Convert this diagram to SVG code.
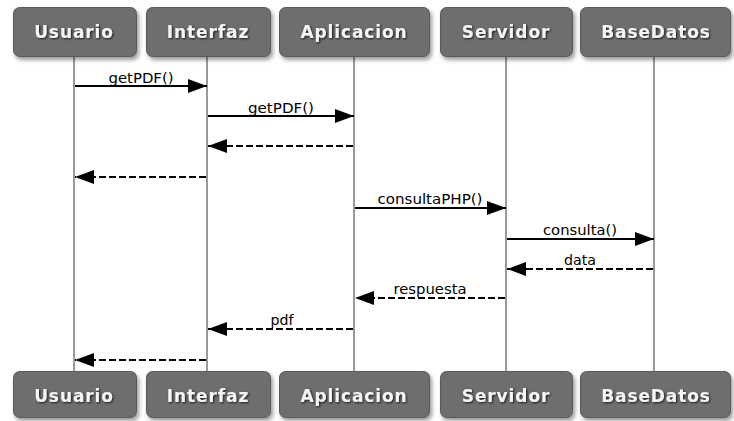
<svg xmlns="http://www.w3.org/2000/svg" width="734" height="421" viewBox="0 0 734 421">
  <style>
    .life { stroke: #9a9a9a; stroke-width: 2; fill: none; }
    .box { fill: #6e6e6e; stroke: #5a5a5a; stroke-width: 1; filter: url(#shadow); }
    .name { font-family: "DejaVu Sans", Verdana, sans-serif; font-weight: bold; font-size: 17px; fill: #f4f4f4; text-anchor: middle; letter-spacing: 0.9px; filter: url(#glow); }
    .msg { stroke: #000; stroke-width: 2; fill: none; }
    .ret { stroke: #000; stroke-width: 2; fill: none; stroke-dasharray: 7 3; }
    .lbl { font-family: "DejaVu Sans", Verdana, sans-serif; font-size: 14px; fill: #000; text-anchor: middle; }
  </style>
  <defs>
    <filter id="shadow" x="-10%" y="-20%" width="125%" height="150%">
      <feGaussianBlur in="SourceAlpha" stdDeviation="2"/>
      <feOffset dx="2" dy="3" result="b"/>
      <feComponentTransfer><feFuncA type="linear" slope="0.4"/></feComponentTransfer>
      <feMerge><feMergeNode/><feMergeNode in="SourceGraphic"/></feMerge>
    </filter>
    <filter id="glow" x="-10%" y="-30%" width="120%" height="160%">
      <feGaussianBlur in="SourceAlpha" stdDeviation="1.2"/>
      <feOffset dx="1" dy="1"/>
      <feComponentTransfer><feFuncA type="linear" slope="0.8"/></feComponentTransfer>
      <feMerge><feMergeNode/><feMergeNode in="SourceGraphic"/></feMerge>
    </filter>
    <marker id="head" viewBox="0 0 19 14" refX="19" refY="7" markerWidth="19" markerHeight="14" markerUnits="userSpaceOnUse" orient="auto">
      <path d="M0,0 L19,7 L0,14 Z" fill="#000"/>
    </marker>
  </defs>

  <rect width="734" height="421" fill="#ffffff"/>

  <!-- lifelines -->
  <g id="lifelines">
    <line class="life" x1="74" y1="57" x2="74" y2="371"/>
    <line class="life" x1="207" y1="57" x2="207" y2="371"/>
    <line class="life" x1="354" y1="57" x2="354" y2="371"/>
    <line class="life" x1="506" y1="57" x2="506" y2="371"/>
    <line class="life" x1="654" y1="57" x2="654" y2="371"/>
  </g>

  <!-- participants (top and bottom heads) -->
  <g id="usuario">
    <rect class="box" x="13.5" y="7.5" width="123" height="49" rx="6"/>
    <text class="name" x="74" y="37.5">Usuario</text>
    <rect class="box" x="13.5" y="371.5" width="123" height="46" rx="6"/>
    <text class="name" x="74" y="401.5">Usuario</text>
  </g>
  <g id="interfaz">
    <rect class="box" x="146.5" y="7.5" width="124" height="49" rx="6"/>
    <text class="name" x="208" y="37.5">Interfaz</text>
    <rect class="box" x="146.5" y="371.5" width="124" height="46" rx="6"/>
    <text class="name" x="208" y="401.5">Interfaz</text>
  </g>
  <g id="aplicacion">
    <rect class="box" x="279.5" y="7.5" width="150" height="49" rx="6"/>
    <text class="name" x="354" y="37.5">Aplicacion</text>
    <rect class="box" x="279.5" y="371.5" width="150" height="46" rx="6"/>
    <text class="name" x="354" y="401.5">Aplicacion</text>
  </g>
  <g id="servidor">
    <rect class="box" x="440.5" y="7.5" width="132" height="49" rx="6"/>
    <text class="name" x="506" y="37.5">Servidor</text>
    <rect class="box" x="440.5" y="371.5" width="132" height="46" rx="6"/>
    <text class="name" x="506" y="401.5">Servidor</text>
  </g>
  <g id="basedatos">
    <rect class="box" x="580.5" y="7.5" width="150" height="49" rx="6"/>
    <text class="name" x="656" y="37.5">BaseDatos</text>
    <rect class="box" x="580.5" y="371.5" width="150" height="46" rx="6"/>
    <text class="name" x="656" y="401.5">BaseDatos</text>
  </g>

  <!-- messages -->
  <g id="connectors">
    <line class="msg" x1="75" y1="86" x2="207" y2="86" marker-end="url(#head)"/>
    <text class="lbl" x="141" y="83" textLength="65" lengthAdjust="spacingAndGlyphs">getPDF()</text>

    <line class="msg" x1="208" y1="116" x2="354" y2="116" marker-end="url(#head)"/>
    <text class="lbl" x="281" y="113" textLength="66" lengthAdjust="spacingAndGlyphs">getPDF()</text>

    <line class="ret" x1="353" y1="146" x2="208" y2="146" marker-end="url(#head)"/>

    <line class="ret" x1="206" y1="177" x2="75" y2="177" marker-end="url(#head)"/>

    <line class="msg" x1="355" y1="208" x2="506" y2="208" marker-end="url(#head)"/>
    <text class="lbl" x="430" y="204" textLength="105" lengthAdjust="spacingAndGlyphs">consultaPHP()</text>

    <line class="msg" x1="507" y1="239" x2="654" y2="239" marker-end="url(#head)"/>
    <text class="lbl" x="580" y="235" textLength="74" lengthAdjust="spacingAndGlyphs">consulta()</text>

    <line class="ret" x1="653" y1="269" x2="507" y2="269" marker-end="url(#head)"/>
    <text class="lbl" x="580" y="265" textLength="32" lengthAdjust="spacingAndGlyphs">data</text>

    <line class="ret" x1="505" y1="298" x2="355" y2="298" marker-end="url(#head)"/>
    <text class="lbl" x="430" y="294" textLength="73" lengthAdjust="spacingAndGlyphs">respuesta</text>

    <line class="ret" x1="353" y1="329" x2="208" y2="329" marker-end="url(#head)"/>
    <text class="lbl" x="282" y="325" textLength="23" lengthAdjust="spacingAndGlyphs">pdf</text>

    <line class="ret" x1="206" y1="360" x2="75" y2="360" marker-end="url(#head)"/>
  </g>
</svg>
